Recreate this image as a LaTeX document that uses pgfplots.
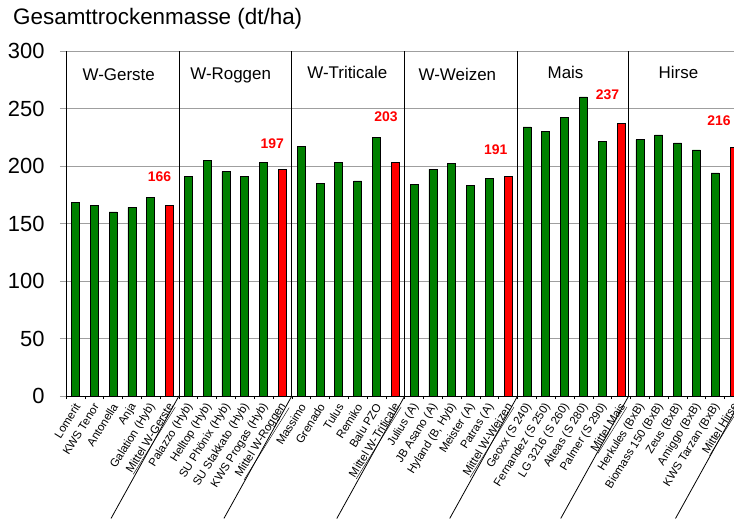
\documentclass[border=0pt]{standalone}
\usepackage{pgfplots}
\pgfplotsset{compat=1.18}
\usepackage{fontspec}
\setmainfont{Liberation Sans}
\definecolor{bargreen}{RGB}{0,128,0}
\definecolor{barred}{RGB}{255,0,0}
\begin{document}
\begin{tikzpicture}
\begin{axis}[
  at={(0,0)}, anchor=south west,
  scale only axis, width=668bp, height=345bp,
  xmin=-0.5, xmax=35, ymin=0, ymax=300,
  axis x line=bottom, axis y line=left,
  axis line style={-, black, line width=0.8bp},
  ytick={0,50,...,300},
  ymajorgrids, grid style={gray!75, line width=0.9bp},
  tick align=outside,
  major tick length=6bp,
  minor tick length=3bp,
  /pgf/number format/assume math mode=true,
  yticklabel style={font=\fontsize{22}{24}\selectfont, xshift=-12bp},
  ytick style={gray!75, line width=0.9bp},
  xtick={0,...,35},
  xticklabels={Lomerit,KWS Tenor,Antonella,Anja,Galation (Hyb),\underline{Mittel W-Gerste},
    Palazzo (Hyb),Helltop (Hyb),SU Phönix (Hyb),SU Stakkato (Hyb),KWS Progas (Hyb),\underline{Mittel W-Roggen},
    Massimo,Grenado,Tulus,Remiko,Balu PZO,\underline{Mittel W-Triticale},
    Julius (A),JB Asano (A),{Hyland (B, Hyb)},Meister (A),Patras (A),\underline{Mittel W-Weizen},
    Geoxx (S 240),Fernandez (S 250),LG 3216 (S 260),Alteas (S 280),Palmer (S 290),\underline{Mittel Mais},
    Herkules (BxB),Biomass 150 (BxB),Zeus (BxB),Amiggo (BxB),KWS Tarzan (BxB),\underline{Mittel Hirse}},
  major x tick style={draw=none},
  minor xtick={-0.5,0.5,...,35.5},
  minor x tick style={black, line width=0.6bp},
  xticklabel style={font=\fontsize{11.5}{12}\selectfont, rotate=58, anchor=east, inner sep=1pt, yshift=-3bp},
  clip mode=individual,
]
\addplot[ybar, bar width=0.425, bar shift=0pt, fill=bargreen, draw=black, line width=0.7bp] coordinates {
 (0,168) (1,166) (2,160) (3,164) (4,173)
 (6,191) (7,205) (8,195) (9,191) (10,203)
 (12,217) (13,185) (14,203) (15,187) (16,225)
 (18,184) (19,197) (20,202) (21,183) (22,189)
 (24,234) (25,230) (26,242) (27,260) (28,221)
 (30,223) (31,227) (32,220) (33,214) (34,194)
};
\addplot[ybar, bar width=0.425, bar shift=0pt, fill=barred, draw=black, line width=0.7bp] coordinates {
 (5,166) (11,197) (17,203) (23,191) (29,237) (35,216)
};
\addplot[draw=none, mark=none, nodes near coords, point meta=explicit symbolic,
  every node near coord/.style={anchor=center, text=barred, font=\bfseries\fontsize{14}{16}\selectfont, fill=white, inner sep=1pt}]
  table[meta=lab] {
x y lab
4.47 190.7 166
10.46 219.7 197
16.5 242.6 203
22.34 213.9 191
28.28 262.3 237
34.2 239.1 216
};
\draw[black, line width=0.8bp] (axis cs:5.5,0) -- (axis cs:5.5,300);
\draw[black, line width=0.8bp] (axis cs:11.5,0) -- (axis cs:11.5,300);
\draw[black, line width=0.8bp] (axis cs:17.5,0) -- (axis cs:17.5,300);
\draw[black, line width=0.8bp] (axis cs:23.5,0) -- (axis cs:23.5,300);
\draw[black, line width=0.8bp] (axis cs:29.4,0) -- (axis cs:29.4,300);
\draw[black, line width=0.8bp] (axis cs:5.5,0) -- ++(241:140bp);
\draw[black, line width=0.8bp] (axis cs:11.5,0) -- ++(241:140bp);
\draw[black, line width=0.8bp] (axis cs:17.5,0) -- ++(241:140bp);
\draw[black, line width=0.8bp] (axis cs:23.5,0) -- ++(241:140bp);
\draw[black, line width=0.8bp] (axis cs:29.4,0) -- ++(241:140bp);
\draw[black, line width=0.8bp] (axis cs:35.5,0) -- ++(241:140bp);
\node[font=\fontsize{17}{20}\selectfont] at (axis cs:2.3,279) {W-Gerste};
\node[font=\fontsize{17}{20}\selectfont] at (axis cs:8.25,279) {W-Roggen};
\node[font=\fontsize{17}{20}\selectfont] at (axis cs:14.45,281) {W-Triticale};
\node[font=\fontsize{17}{20}\selectfont] at (axis cs:20.3,280) {W-Weizen};
\node[font=\fontsize{17}{20}\selectfont] at (axis cs:26.05,281) {Mais};
\node[font=\fontsize{17}{20}\selectfont] at (axis cs:32.05,281) {Hirse};
\end{axis}
\node[anchor=base west, font=\fontsize{22.5}{25}\selectfont, inner sep=0pt] at (-53bp,371bp) {Gesamttrockenmasse (dt/ha)};
\pgfresetboundingbox
\path[use as bounding box] (-66bp,-124bp) rectangle (668bp,396bp);
\end{tikzpicture}
\end{document}
